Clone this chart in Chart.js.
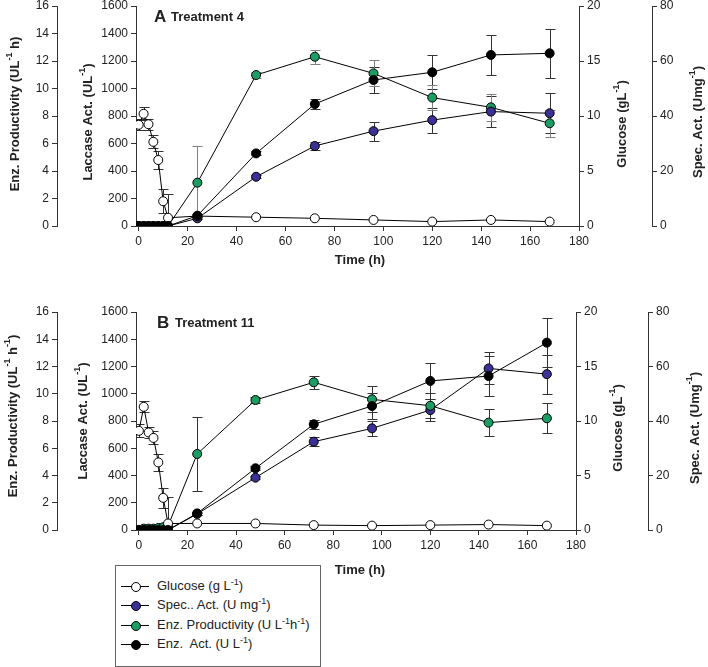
<!DOCTYPE html>
<html><head><meta charset="utf-8">
<script src="https://cdn.jsdelivr.net/npm/chart.js@4/dist/chart.umd.min.js"></script>
<style>
body{margin:0;background:#fff;width:708px;height:667px;position:relative;overflow:hidden;font-family:"Liberation Sans",Arial,sans-serif;}
canvas{position:absolute;left:0;}
#cA{top:0}
#cB{top:306px}
#legend{position:absolute;left:115px;top:565px;width:206px;height:102px;border:1px solid #666;box-sizing:border-box;background:#fff;}
.row{position:absolute;left:0;width:200px;height:16px;}
.ln{position:absolute;left:5px;width:28px;top:8px;height:1px;background:#000}
.mk{position:absolute;left:14.5px;top:3.5px;width:10px;height:10px;border:1px solid #000;border-radius:50%;box-sizing:border-box}
.tx{position:absolute;left:41px;top:0;font-size:13px;line-height:16px;white-space:nowrap;color:#222}
.tx sup{font-size:9px;line-height:0;vertical-align:5px}
</style>
</head><body>
<canvas id="cA" width="708" height="272"></canvas>
<canvas id="cB" width="708" height="272"></canvas>
<div id="legend">
 <div class="row" style="top:12px"><div class="ln"></div><div class="mk" style="background:#ffffff"></div><div class="tx">Glucose (g L<sup>-1</sup>)</div></div>
 <div class="row" style="top:31px"><div class="ln"></div><div class="mk" style="background:#3b3094"></div><div class="tx">Spec.. Act. (U mg<sup>-1</sup>)</div></div>
 <div class="row" style="top:51px"><div class="ln"></div><div class="mk" style="background:#1a9e63"></div><div class="tx">Enz. Productivity (U L<sup>-1</sup>h<sup>-1</sup>)</div></div>
 <div class="row" style="top:70px"><div class="ln"></div><div class="mk" style="background:#000000"></div><div class="tx">Enz.&nbsp; Act. (U L<sup>-1</sup>)</div></div>
</div>
<script>
// ---------- data ----------
const times = [0, 2, 4, 6, 8, 10, 12, 24, 48, 72, 96, 120, 144, 168];
const xTicks = [0, 20, 40, 60, 80, 100, 120, 140, 160, 180];
const laccaseTicks = [0, 200, 400, 600, 800, 1000, 1200, 1400, 1600];
const prodTicks = [0, 2, 4, 6, 8, 10, 12, 14, 16];
const glucoseTicks = [0, 5, 10, 15, 20];
const specTicks = [0, 20, 40, 60, 80];

// Panel A - Treatment 4
const glucoseA    = [9.2, 10.2, 9.25, 7.65, 6.0, 2.25, 0.75, 0.9, 0.8, 0.7, 0.55, 0.4, 0.55, 0.4];
const glucoseErrA = [0.5, 0.6, 0.5, 0.6, 0.8, 1.1, 2.2, 0, 0, 0, 0, 0, 0, 0];
const specA       = [0, 0, 0, 0, 0, 0, 0, 2.8, 17.9, 29.1, 34.5, 38.5, 41.6, 41.0];
const specErrA    = [0, 0, 0, 0, 0, 0, 0, 0.3, 0.6, 1.3, 3.5, 4.5, 5.5, 7.3];
const prodA       = [null, null, null, null, null, null, 0, 3.15, 10.98, 12.31, 11.1, 9.34, 8.63, 7.47];
const prodErrA    = [0, 0, 0, 0, 0, 0, 0, 2.67, 0.2, 0.5, 0.95, 0.9, 1.0, 1.0];
const actA        = [0, 0, 0, 0, 0, 0, 0, 75, 528, 887, 1062, 1118, 1244, 1256];
const actErrA     = [0, 0, 0, 0, 0, 0, 0, 10, 15, 36, 95, 124, 143, 180];

// Panel B - Treatment 11
const glucoseB    = [9.1, 11.3, 8.95, 8.45, 6.2, 2.95, 0.6, 0.6, 0.6, 0.45, 0.4, 0.45, 0.5, 0.4];
const glucoseErrB = [0.6, 0.5, 0.5, 0.6, 0.8, 0.9, 2.4, 0, 0, 0, 0, 0, 0, 0];
const specB       = [0, 0, 0, 0, 0, 0, 0, 5.9, 19.2, 32.4, 37.3, 44.0, 59.3, 57.2];
const specErrB    = [0, 0, 0, 0, 0, 0, 0, 0.3, 0.6, 1.7, 2.75, 4.0, 5.9, 7.2];
const prodB       = [null, 0.1, 0.1, 0.1, 0.15, 0.2, 0.3, 5.58, 9.54, 10.84, 9.59, 9.12, 7.88, 8.2];
const prodErrB    = [0, 0, 0, 0, 0, 0, 0, 2.69, 0.2, 0.48, 0.95, 0.9, 0.98, 1.1];
const actB        = [0, 0, 0, 0, 0, 0, 0, 122, 453, 776, 910, 1094, 1130, 1375];
const actErrB     = [0, 0, 0, 0, 0, 0, 0, 10, 15, 34, 92, 135, 147, 180];

// ---------- styles ----------
const FONT = '"Liberation Sans", Arial, sans-serif';
const COL = {glucose: '#ffffff', spec: '#3b3094', prod: '#1a9e63', act: '#000000'};
const TXT = '#222222';
const AX = '#333333';

const errorBarPlugin = {
  id: 'errorBars',
  beforeDatasetsDraw(chart) {
    const ctx = chart.ctx, a = chart.chartArea;
    ctx.save();
    ctx.beginPath();
    ctx.rect(a.left, a.top - 2, a.right - a.left, a.bottom - a.top + 2);
    ctx.clip();
    ctx.lineWidth = 1;
    chart.data.datasets.forEach(ds => {
      if (!ds.errors) return;
      const ys = chart.scales[ds.yAxisID], xs = chart.scales.x;
      ctx.strokeStyle = ds.errorColor || AX;
      ds.data.forEach((p, i) => {
        const e = ds.errors[i];
        if (!e || p.y == null) return;
        const x = Math.round(xs.getPixelForValue(p.x)) + 0.5;
        const y1 = Math.round(ys.getPixelForValue(p.y + e)) + 0.5;
        const y2 = Math.round(ys.getPixelForValue(p.y - e)) + 0.5;
        ctx.beginPath();
        ctx.moveTo(x, y1); ctx.lineTo(x, y2);
        ctx.moveTo(x - 5, y1); ctx.lineTo(x + 5, y1);
        ctx.moveTo(x - 5, y2); ctx.lineTo(x + 5, y2);
        ctx.stroke();
      });
    });
    ctx.restore();
  }
};

const richTextPlugin = {
  id: 'richText',
  afterDraw(chart, args, opts) {
    const ctx = chart.ctx;
    (opts.items || []).forEach(it => {
      ctx.save();
      ctx.translate(it.x, it.y);
      if (it.rot) ctx.rotate(it.rot);
      ctx.fillStyle = TXT;
      ctx.textBaseline = 'middle';
      ctx.textAlign = 'left';
      let total = 0;
      const segs = it.parts.map(p => {
        const size = p.sup ? 9 : (p.size || 13);
        const f = 'bold ' + size + 'px ' + FONT;
        ctx.font = f;
        const w = ctx.measureText(p.t).width;
        total += w;
        return {f, w, t: p.t, sup: p.sup};
      });
      let cx = it.align === 'left' ? 0 : -total / 2;
      segs.forEach(s => {
        ctx.font = s.f;
        ctx.fillText(s.t, cx, s.sup ? -5 : 0);
        cx += s.w;
      });
      ctx.restore();
    });
  }
};

function pts(vals) { return times.map((t, i) => ({x: t, y: vals[i]})); }

function yAxis(pos, weight, min, max, ticks, width) {
  return {
    type: 'linear', position: pos, weight: weight, min: min, max: max,
    afterBuildTicks: s => { s.ticks = ticks.map(v => ({value: v})); },
    afterFit: s => { s.width = width; s.paddingTop = 0; s.paddingBottom = 0; },
    grid: {drawOnChartArea: false, drawTicks: true, tickLength: 5, color: AX, tickColor: AX},
    border: {display: true, color: AX, width: 1},
    ticks: {font: {family: FONT, size: 12}, color: TXT, padding: 3, callback: v => String(v)}
  };
}

function makePanel(id, d) {
  const mk = (label, vals, errs, color, axis, errColor) => ({
    label, data: pts(vals), errors: errs, yAxisID: axis, errorColor: errColor,
    borderColor: '#000', borderWidth: 1, tension: 0, fill: false,
    pointRadius: 4.5, pointHoverRadius: 4.5, pointBorderWidth: 1,
    pointBorderColor: '#000', pointBackgroundColor: color
  });
  const sets = {
    act: mk('Enz. Act.', d.act, d.actErr, COL.act, 'yLac', AX),
    glucose: mk('Glucose', d.glucose, d.glucoseErr, COL.glucose, 'yGlu', AX),
    spec: mk('Spec. Act.', d.spec, d.specErr, COL.spec, 'ySpec', AX),
    prod: mk('Enz. Productivity', d.prod, d.prodErr, COL.prod, 'yProd', d.prodErrColor)
  };
  return new Chart(document.getElementById(id), {
    type: 'line',
    data: {datasets: d.order.map(k => sets[k])},
    options: {
      responsive: false, animation: false, devicePixelRatio: 1,
      layout: {padding: {left: 0, right: d.padRight, top: 6, bottom: d.padBottom}},
      plugins: {legend: {display: false}, tooltip: {enabled: false}, richText: {items: d.titles}},
      scales: {
        x: {
          type: 'linear', position: 'bottom', min: d.xMin, max: 180,
          afterBuildTicks: s => { s.ticks = xTicks.map(v => ({value: v})); },
          afterFit: s => { s.height = 30; s.paddingLeft = 0; s.paddingRight = 0; },
          grid: {drawOnChartArea: false, drawTicks: true, tickLength: 5, color: AX, tickColor: AX},
          border: {display: true, color: AX, width: 1},
          ticks: {font: {family: FONT, size: 12}, color: TXT, padding: 3, maxRotation: 0, callback: v => String(v)}
        },
        yLac: yAxis('left', 0, 0, 1600, laccaseTicks, 79),
        yProd: yAxis('left', 1, 0, 16, prodTicks, 57),
        yGlu: yAxis('right', 0, 0, 20, glucoseTicks, d.gluWidth),
        ySpec: yAxis('right', 1, 0, 80, specTicks, 56)
      }
    },
    plugins: [errorBarPlugin, richTextPlugin]
  });
}

const R = -Math.PI / 2;
makePanel('cA', {
  glucose: glucoseA, glucoseErr: glucoseErrA, spec: specA, specErr: specErrA,
  prod: prodA, prodErr: prodErrA, act: actA, actErr: actErrA, prodErrColor: '#808080',
  order: ['act', 'glucose', 'spec', 'prod'],
  xMin: -1.1, padRight: 0, padBottom: 16, gluWidth: 73,
  titles: [
    {x: 15, y: 114, rot: R, parts: [{t: 'Enz. Productivity (UL'}, {t: '-1', sup: true}, {t: ' h)'}]},
    {x: 88, y: 122, rot: R, parts: [{t: 'Laccase Act. (UL'}, {t: '-1', sup: true}, {t: ')'}]},
    {x: 622, y: 124, rot: R, parts: [{t: 'Glucose (gL'}, {t: '-1', sup: true}, {t: ')'}]},
    {x: 698, y: 122, rot: R, parts: [{t: 'Spec. Act. (Umg'}, {t: '-1', sup: true}, {t: ')'}]},
    {x: 360, y: 260, parts: [{t: 'Time (h)'}]},
    {x: 154, y: 17, align: 'left', parts: [{t: 'A', size: 17}]},
    {x: 171, y: 17, align: 'left', parts: [{t: 'Treatment 4'}]}
  ]
});
makePanel('cB', {
  glucose: glucoseB, glucoseErr: glucoseErrB, spec: specB, specErr: specErrB,
  prod: prodB, prodErr: prodErrB, act: actB, actErr: actErrB, prodErrColor: AX,
  order: ['act', 'glucose', 'prod', 'spec'],
  xMin: -1.2, padRight: 4, padBottom: 18, gluWidth: 72,
  titles: [
    {x: 13, y: 110, rot: R, parts: [{t: 'Enz. Productivity (UL'}, {t: '-1', sup: true}, {t: ' h'}, {t: '-1', sup: true}, {t: ')'}]},
    {x: 83, y: 115, rot: R, parts: [{t: 'Laccase Act. (UL'}, {t: '-1', sup: true}, {t: ')'}]},
    {x: 618, y: 122, rot: R, parts: [{t: 'Glucose (gL'}, {t: '-1', sup: true}, {t: ')'}]},
    {x: 695, y: 122, rot: R, parts: [{t: 'Spec. Act. (Umg'}, {t: '-1', sup: true}, {t: ')'}]},
    {x: 360, y: 264, parts: [{t: 'Time (h)'}]},
    {x: 157, y: 17, align: 'left', parts: [{t: 'B', size: 17}]},
    {x: 175, y: 17, align: 'left', parts: [{t: 'Treatment 11'}]}
  ]
});
</script>
</body></html>
